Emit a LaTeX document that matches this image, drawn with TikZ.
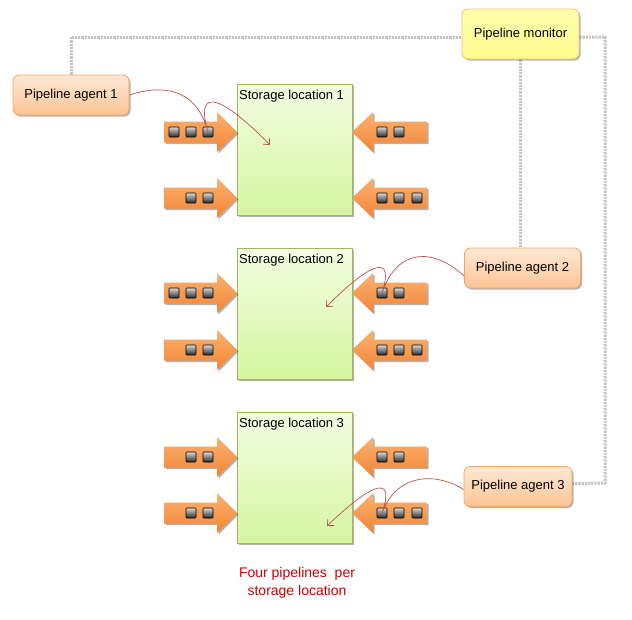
\documentclass[tikz,border=0pt]{standalone}
\usepackage{fontspec}
\setmainfont{Liberation Sans}
\usetikzlibrary{shadows,arrows.meta,backgrounds}
\definecolor{arrtop}{RGB}{251,178,112}
\definecolor{arrbot}{RGB}{243,132,52}
\definecolor{boxtop}{RGB}{242,253,226}
\definecolor{boxbot}{RGB}{214,246,160}
\definecolor{boxline}{RGB}{155,187,89}
\definecolor{agtop}{RGB}{254,232,212}
\definecolor{agbot}{RGB}{252,196,150}
\definecolor{agline}{RGB}{246,166,96}
\definecolor{montop}{RGB}{255,255,176}
\definecolor{monbot}{RGB}{255,250,140}
\definecolor{monline}{RGB}{240,196,120}
\definecolor{dotgray}{RGB}{195,195,195}
\definecolor{curvered}{RGB}{192,80,77}
\definecolor{captred}{RGB}{204,0,0}
\tikzset{
  shad/.style={drop shadow={shadow xshift=1.5pt,shadow yshift=-1.5pt,opacity=0.3,fill=black}},
  storebox/.style={draw=boxline,line width=0.8pt,top color=boxtop,bottom color=boxbot,shad,
    minimum width=115pt,minimum height=131pt,inner sep=0pt},
  agent/.style={draw=agline,line width=0.8pt,rounded corners=6pt,top color=agtop,bottom color=agbot,shad,
    minimum width=116pt,minimum height=40pt,inner sep=0pt},
  monitor/.style={draw=monline,line width=0.8pt,rounded corners=6pt,top color=montop,bottom color=monbot,shad,
    minimum width=117pt,minimum height=50pt,inner sep=0pt},
  pipearrow/.style={top color=arrtop,bottom color=arrbot,shad},
  sq/.style={draw=black,line width=0.6pt,top color=black!15,bottom color=black!85,
    minimum size=10pt,inner sep=0pt,rounded corners=0.8pt},
  dotline/.style={draw=dotgray,line width=3pt,dash pattern=on 2.2pt off 1pt},
  redcurve/.style={draw=curvered,line width=0.7pt},
  redtip/.style={-{Straight Barb[length=5pt,width=9pt]}},
  lbl/.style={anchor=base west,inner sep=0pt},
}
\newcommand\pipeRight[2]{% tip x, centre y, arrow points right
  \path[pipearrow] (#1-73,#2-10.5) -- (#1-20,#2-10.5) -- (#1-20,#2-20) -- (#1,#2)
     -- (#1-20,#2+20) -- (#1-20,#2+10.5) -- (#1-73,#2+10.5) -- cycle;}
\newcommand\pipeLeft[2]{% tip x, centre y, arrow points left
  \path[pipearrow] (#1+75,#2-10.5) -- (#1+21,#2-10.5) -- (#1+21,#2-20) -- (#1,#2)
     -- (#1+21,#2+20) -- (#1+21,#2+10.5) -- (#1+75,#2+10.5) -- cycle;}
\begin{document}
\begin{tikzpicture}[x=1pt,y=-1pt,font=\fontsize{13}{15}\selectfont]
\useasboundingbox (0,0) rectangle (632,619);

% monitor and agents
\node[monitor] (mon) at (520.5,34) {\raisebox{-2pt}{Pipeline monitor}};
\node[agent] (a1) at (71,95) {Pipeline agent 1};
\node[agent] (a2) at (522.5,268) {Pipeline agent 2};
\node[agent,minimum width=108pt] (a3) at (518,486.5) {Pipeline agent 3};

% dotted monitor links, behind the boxes
\begin{scope}[on background layer]
\path[dotline] (a1.north) -- (a1.north |- 0,37) -- ([yshift=-3pt]mon.west);
\path[dotline] ([yshift=-3pt]mon.east) -- (605,37) -- (605,483) -- ([yshift=3pt]a3.east);
\path[dotline] (mon.south) -- (mon.south |- a2.north);
\end{scope}

% storage locations
\node[storebox] (b1) at (294.5,149.5) {};
\node[storebox] (b2) at (294.5,313.5) {};
\node[storebox] (b3) at (294.5,477.5) {};
\node[lbl] at (239,99) {Storage location 1};
\node[lbl] at (239,263) {Storage location 2};
\node[lbl] at (239,427) {Storage location 3};

% pipelines, location 1
\pipeRight{237}{132} \pipeRight{237}{198}
\pipeLeft{352}{132} \pipeLeft{352}{198}
\node[sq] at (174,132) {}; \node[sq] at (191,132) {}; \node[sq] (s1) at (208,132) {};
\node[sq] at (191,198) {}; \node[sq] at (208,198) {};
\node[sq] at (382,132) {}; \node[sq] at (399,132) {};
\node[sq] at (382,198) {}; \node[sq] at (399,198) {}; \node[sq] at (417,198) {};

% pipelines, location 2
\pipeRight{237}{293} \pipeRight{237}{350}
\pipeLeft{352}{293} \pipeLeft{352}{350}
\node[sq] at (174,293) {}; \node[sq] at (191,293) {}; \node[sq] at (208,293) {};
\node[sq] at (191,350) {}; \node[sq] at (208,350) {};
\node[sq] (s2) at (382,293) {}; \node[sq] at (399,293) {};
\node[sq] at (382,350) {}; \node[sq] at (399,350) {}; \node[sq] at (417,350) {};

% pipelines, location 3
\pipeRight{237}{457} \pipeRight{237}{513}
\pipeLeft{352}{457} \pipeLeft{352}{513}
\node[sq] at (191,457) {}; \node[sq] at (208,457) {};
\node[sq] at (191,513) {}; \node[sq] at (208,513) {};
\node[sq] at (382,457) {}; \node[sq] at (399,457) {};
\node[sq] (s3) at (382,513) {}; \node[sq] at (399,513) {}; \node[sq] at (417,513) {};

% agent-to-location curves
\coordinate (t1) at (270,145);
\coordinate (t2) at (326,307);
\coordinate (t3) at (327,526);
\draw[redcurve,redtip] (a1.east) .. controls (160,85) and (196,86) .. (s1.center)
   .. controls (196,92) and (214,88) .. (t1);
\draw[redcurve,redtip] ([yshift=-8pt]a2.west) .. controls (435,249) and (398,246) .. (s2.center)
   .. controls (394,256) and (375,258) .. (t2);
\draw[redcurve,redtip] ([yshift=-3pt]a3.west) .. controls (440,474) and (398,470) .. (s3.center)
   .. controls (395,476) and (375,480) .. (t3);

% caption
\node[text=captred,align=center,font=\fontsize{14}{18}\selectfont] (cap) at (297,583)
  {Four pipelines~ per\\storage location};
\end{tikzpicture}
\end{document}
